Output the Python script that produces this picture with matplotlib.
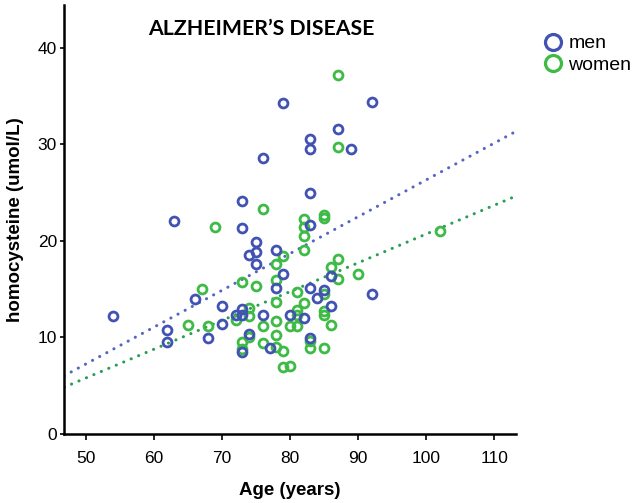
import matplotlib
matplotlib.use("Agg")
import matplotlib.pyplot as plt
from matplotlib.lines import Line2D
import numpy as np

men_age = [54, 62, 62, 63, 66, 68, 70, 70, 72, 73, 73, 73, 73, 73, 74, 74, 75, 75, 75,
           76, 76, 77, 78, 78, 79, 79, 80, 82, 83, 83, 83, 83, 83, 83, 84, 85, 86, 86,
           87, 89, 92, 92]
men_hcy = [12.2, 10.8, 9.5, 22.0, 14.0, 9.9, 13.3, 11.4, 12.3, 24.1, 21.3, 12.9, 12.3, 8.5,
           18.5, 10.4, 19.9, 18.8, 17.6, 28.6, 12.3, 8.9, 19.1, 15.1, 34.3, 16.6, 12.3, 12.0,
           30.5, 29.5, 24.9, 21.6, 15.1, 9.9, 14.1, 14.9, 16.4, 13.3, 31.6, 29.5, 34.4, 14.5]

women_age = [65, 67, 68, 69, 72, 73, 73, 73, 74, 74, 74, 75, 76, 76, 76, 78, 78, 78, 78, 78,
             78, 79, 79, 79, 80, 80, 81, 81, 81, 81, 82, 82, 82, 82, 82, 83, 83, 85, 85, 85,
             85, 85, 85, 86, 86, 87, 87, 87, 87, 90, 102]
women_hcy = [11.3, 15.0, 11.2, 21.4, 11.8, 15.7, 9.5, 8.8, 13.0, 12.2, 10.0, 15.3, 23.3, 11.2,
             9.4, 17.6, 15.9, 13.7, 11.7, 10.3, 9.0, 18.4, 8.6, 6.9, 11.2, 7.0, 14.7, 12.8,
             12.3, 11.2, 22.3, 21.4, 20.5, 19.0, 13.6, 9.6, 8.9, 22.4, 22.7, 14.5, 12.7, 12.3,
             8.9, 17.3, 11.3, 37.2, 29.7, 18.1, 16.1, 16.6, 21.0]

# fit lines (slope, intercept)
men_fit = (0.381, -11.8)
women_fit = (0.298, -9.1)

x_ticks = [50, 60, 70, 80, 90, 100, 110]
y_ticks = [0, 10, 20, 30, 40]

blue = "#4152b2"
green = "#3dbb45"
blue_line = "#5566c0"
green_line = "#2a9d55"

fig = plt.figure(figsize=(6.35, 5.03), dpi=100)
ax = fig.add_axes([0.1008, 0.137, 0.7118, 0.853])

xlim = (46.8, 113.2)
ax.set_xlim(*xlim)
ax.set_ylim(0, 44.4)

xs = np.array(xlim)
ax.plot(xs, men_fit[0] * xs + men_fit[1], color=blue_line, lw=2.2,
        linestyle=(0, (0.05, 2.6)), dash_capstyle="round", zorder=1)
ax.plot(xs, women_fit[0] * xs + women_fit[1], color=green_line, lw=2.2,
        linestyle=(0, (0.05, 2.6)), dash_capstyle="round", zorder=1)

ax.plot(women_age, women_hcy, linestyle="none", marker="o", ms=6.4, mew=2.0,
        mfc="none", mec=green, zorder=2)
ax.plot(men_age, men_hcy, linestyle="none", marker="o", ms=6.4, mew=2.0,
        mfc="none", mec=blue, zorder=3)

ax.set_xticks(x_ticks)
ax.set_yticks(y_ticks)
for s in ["top", "right"]:
    ax.spines[s].set_visible(False)
for s in ["left", "bottom"]:
    ax.spines[s].set_linewidth(1.8)
ax.tick_params(axis="x", direction="out", length=4, width=1.2, labelsize=12.5, pad=8)
ax.tick_params(axis="y", direction="out", length=3, width=1.2, labelsize=12.5, pad=2)
for lab in ax.get_xticklabels() + ax.get_yticklabels():
    lab.set_fontfamily("Liberation Sans")

ax.set_xlabel("Age (years)", fontsize=13.5, fontweight="bold",
              family="Liberation Sans", labelpad=12)
ax.set_ylabel("homocysteine (umol/L)", fontsize=13.5, fontweight="bold",
              family="Liberation Sans", labelpad=10)

ax.text(0.437, 0.945, "ALZHEIMER\u2019S DISEASE", transform=ax.transAxes,
        ha="center", va="center", fontsize=15.3, fontweight="bold", family="Lato")

handles = [Line2D([], [], linestyle="none", marker="o", ms=11.5, mew=2.3, mfc="none", mec=blue),
           Line2D([], [], linestyle="none", marker="o", ms=11.5, mew=2.3, mfc="none", mec=green)]
fig.legend(handles, ["men", "women"], loc="upper left", bbox_to_anchor=(0.84, 0.95),
           frameon=False, handletextpad=0.3, labelspacing=0.2,
           borderpad=0, handlelength=1.0, prop={"family": "Liberation Sans", "size": 14})

fig.savefig("out.png", dpi=100)
